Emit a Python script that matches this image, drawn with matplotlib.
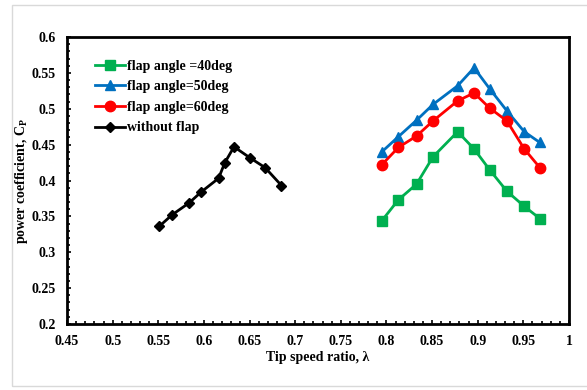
import numpy as np
import matplotlib
matplotlib.use('Agg')
import matplotlib.pyplot as plt
from matplotlib.ticker import MultipleLocator
from matplotlib.patches import Rectangle

plt.rcParams['font.family'] = 'Liberation Serif'
plt.rcParams['font.weight'] = 'bold'
plt.rcParams['mathtext.fontset'] = 'custom'
plt.rcParams['mathtext.rm'] = 'Liberation Serif:bold'
plt.rcParams['mathtext.it'] = 'Liberation Serif:bold'

# tip speed ratio values
tsr_flap = [0.795, 0.813, 0.833, 0.851, 0.878, 0.896, 0.913, 0.932, 0.951, 0.968]
tsr_noflap = [0.551, 0.565, 0.584, 0.597, 0.616, 0.623, 0.633, 0.650, 0.667, 0.685]

# power coefficient
cp_40 = [0.344, 0.373, 0.395, 0.433, 0.468, 0.444, 0.415, 0.385, 0.364, 0.347]
cp_50 = [0.440, 0.461, 0.484, 0.506, 0.532, 0.557, 0.528, 0.497, 0.468, 0.453]
cp_60 = [0.422, 0.446, 0.462, 0.483, 0.511, 0.522, 0.501, 0.483, 0.444, 0.418]
cp_noflap = [0.336, 0.352, 0.369, 0.384, 0.403, 0.425, 0.447, 0.432, 0.418, 0.393]

fig = plt.figure(figsize=(5.87, 3.90), dpi=100)
# light gray frame round the chart area
fig.patches.append(Rectangle((12/587, 4/390), 1.0, 1 - 9/390, transform=fig.transFigure,
                             fill=False, edgecolor='#d9d9d9', linewidth=1.0))
ax = fig.add_axes([67/587, 1 - 324/390, 502/587, 287/390])

ax.plot(tsr_flap, cp_40, color='#00b050', marker='s', markersize=7.5, linewidth=2, label='flap angle =40deg')
ax.plot(tsr_flap, cp_50, color='#0070c0', marker='^', markersize=7.5, linewidth=2, label='flap angle=50deg')
ax.plot(tsr_flap, cp_60, color='#ff0000', marker='o', markersize=7.5, linewidth=2, label='flap angle=60deg')
ax.plot(tsr_noflap, cp_noflap, color='black', marker='D', markersize=5, linewidth=2, label='without flap')

ax.set_xlim(0.45, 1.0)
ax.set_ylim(0.2, 0.6)
ax.xaxis.set_minor_locator(MultipleLocator(0.01))
ax.yaxis.set_minor_locator(MultipleLocator(0.01))
ax.set_xticks(np.arange(0.45, 1.001, 0.05))
ax.set_xticklabels(['0.45', '0.5', '0.55', '0.6', '0.65', '0.7', '0.75', '0.8', '0.85', '0.9', '0.95', '1'])
ax.set_yticks(np.arange(0.2, 0.601, 0.05))
ax.set_yticklabels(['0.2', '0.25', '0.3', '0.35', '0.4', '0.45', '0.5', '0.55', '0.6'])
ax.tick_params(which='both', direction='in', labelsize=10, width=1.2)
ax.tick_params(which='major', length=3, pad=8)
ax.tick_params(which='minor', length=2.5)
for s in ax.spines.values():
    s.set_linewidth(2)

ax.set_xlabel('Tip speed ratio, λ', fontsize=10, fontweight='bold', labelpad=2)
ax.set_ylabel('power coefficient, C$_{\\mathrm{P}}$', fontsize=10, fontweight='bold', labelpad=1)

ax.legend(loc='upper left', frameon=False, fontsize=10, handlelength=2.2, handletextpad=0.1,
          labelspacing=0.55, borderaxespad=0.5, bbox_to_anchor=(0.03, 0.965))

fig.savefig('out.png', dpi=100)
